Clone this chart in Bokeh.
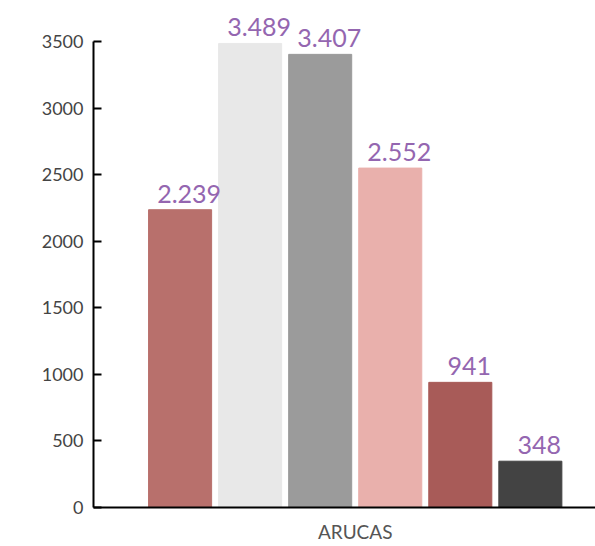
from bokeh.plotting import figure
from bokeh.models import ColumnDataSource, LabelSet, Range1d, FixedTicker
from bokeh.core.properties import value
from bokeh.embed import file_html
from bokeh.resources import INLINE

# Data
category = "ARUCAS"
series = ["s1", "s2", "s3", "s4", "s5", "s6"]
values = [2239, 3489, 3407, 2552, 941, 348]
value_labels = ["2.239", "3.489", "3.407", "2.552", "941", "348"]
colors = ["#b8706c", "#e8e8e8", "#9b9b9b", "#e9b0ac", "#a85b58", "#434343"]
y_ticks = [0, 500, 1000, 1500, 2000, 2500, 3000, 3500]

xs = list(range(len(values)))
src = ColumnDataSource(dict(x=xs, top=values, color=colors, label=value_labels))

p = figure(width=595, height=545, output_backend="svg", toolbar_location=None,
           x_range=Range1d(-1.236, 5.93), y_range=Range1d(0, 3812),
           min_border_left=93, min_border_right=0, min_border_top=0, min_border_bottom=38)

p.vbar(x="x", top="top", bottom=0, width=0.9, color="color", source=src)

labels = LabelSet(x="x", y="top", text="label", source=src, x_offset=9, y_offset=7,
                  text_align="center", text_baseline="bottom",
                  text_font=value("Lato"), text_font_size="25px", text_color="#9466b0")
p.add_layout(labels)

p.outline_line_color = None
p.xgrid.visible = False
p.ygrid.visible = False
p.background_fill_color = "white"
p.border_fill_color = "white"

ya = p.yaxis[0]
ya.ticker = FixedTicker(ticks=y_ticks)
ya.bounds = (0, 3500)
ya.axis_line_color = "black"
ya.axis_line_width = 2
ya.major_tick_in = 8
ya.major_tick_out = 0
ya.major_tick_line_color = "black"
ya.major_tick_line_width = 2
ya.minor_tick_line_color = None
ya.major_label_standoff = 10
ya.major_label_text_font = "Lato"
ya.major_label_text_font_size = "18px"
ya.major_label_text_color = "#444444"

xa = p.xaxis[0]
center = (len(values) - 1) / 2
xa.ticker = FixedTicker(ticks=[center])
xa.major_label_overrides = {center: category}
xa.axis_line_color = "black"
xa.axis_line_width = 2
xa.major_tick_line_color = None
xa.minor_tick_line_color = None
xa.major_tick_in = 0
xa.major_tick_out = 0
xa.major_label_standoff = 12
xa.major_label_text_font = "Lato"
xa.major_label_text_font_size = "19px"
xa.major_label_text_color = "#555555"

open("out.html", "w").write(file_html(p, INLINE))
